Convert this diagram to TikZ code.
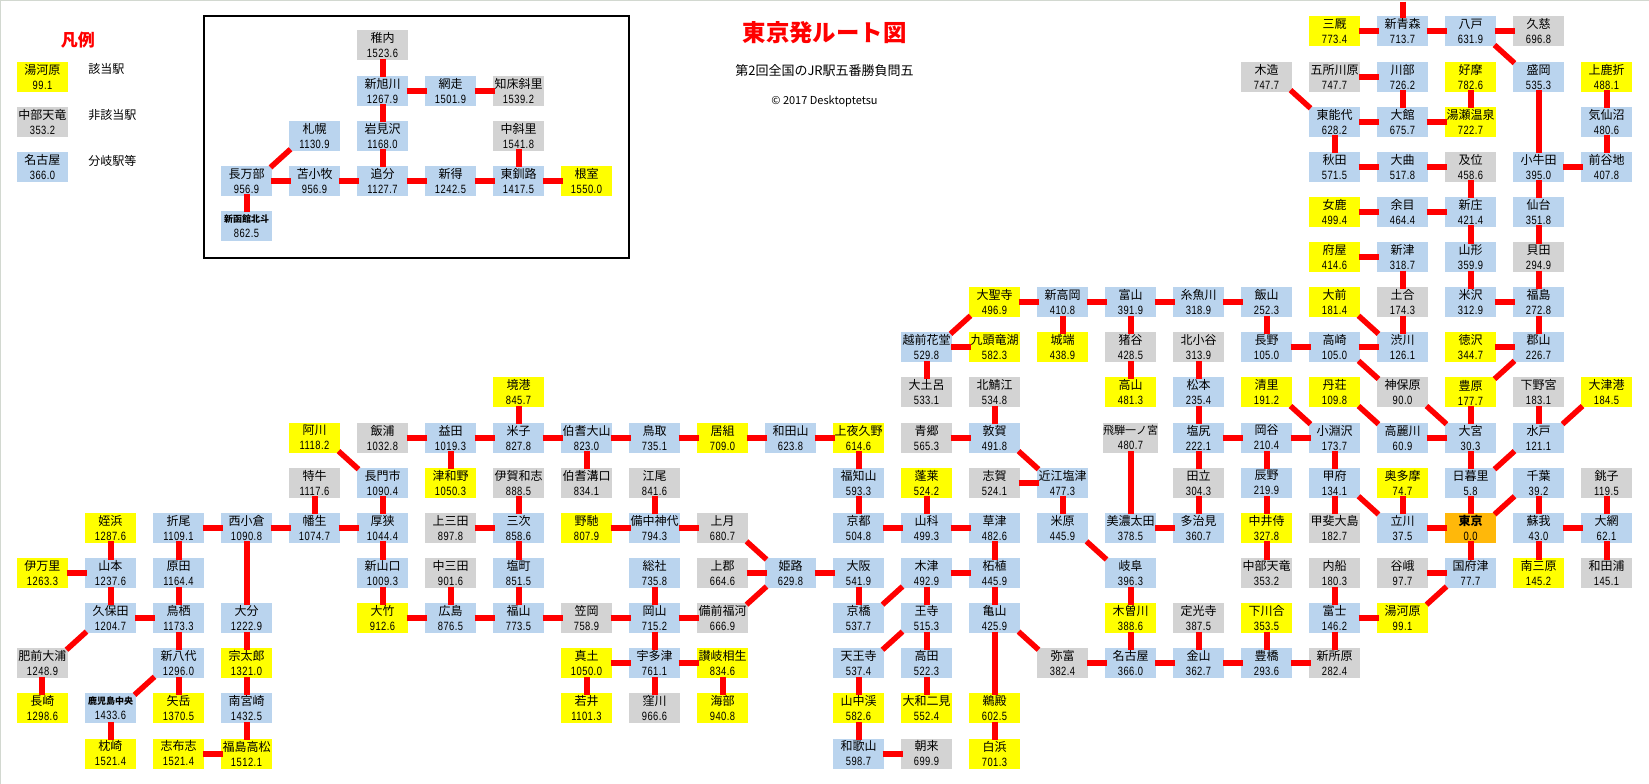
\documentclass[tikz,border=0pt]{standalone}
\usepackage{fontspec}
\setmainfont{Noto Sans CJK JP}
\newfontfamily\kmfont[FakeStretch=0.78,LetterSpace=4]{Liberation Sans}
\newcommand{\tinyname}{\fontsize{9}{15}\selectfont\bfseries}
\newcommand{\longname}{\fontsize{11}{15}\selectfont}
\definecolor{hitcol}{HTML}{FFFF00}
\definecolor{misscol}{HTML}{D3D3D3}
\definecolor{junctioncol}{HTML}{BAD4EE}
\definecolor{origincol}{HTML}{FFB80A}
\definecolor{windowcol}{HTML}{D2D8D0}
\begin{document}
\begin{tikzpicture}[x=68pt,y=-45.125pt,
                station/.style={rectangle, inner sep=0pt, outer sep=-1.5pt, minimum width=51pt, minimum height=30pt,
                    align=center, font=\fontsize{12}{15}\selectfont},
                hit/.style={station, fill=hitcol},
                miss/.style={station, fill=misscol},
                junction/.style={station, fill=junctioncol},
                origin/.style={station, fill=origincol},
                rail/.style={draw=red, line width=6pt},
                slant/.style={draw=red, line width=5.5pt},
                caption/.style={font=\fontsize{12}{15}\selectfont, anchor=west, inner sep=0pt}
            ]
            \useasboundingbox (-0.625,-0.698) rectangle (23.625,16.676);
            \draw[windowcol, line width=1.5pt] (-0.625,16.676) -- (-0.625,-0.698) -- (23.625,-0.698);

            % titles
            \node[font=\fontsize{23.4}{25}\selectfont\bfseries, text=red] (maintitle) at (11.5,0.03) {東京発ルート図};
            \node[font=\fontsize{13}{15}\selectfont] (subtitle) at (11.5,0.87) {第2回全国のJR駅五番勝負問五};
            \node[font=\fontsize{11}{12}\selectfont] (copyline) at (11.5,1.54) {© 2017 Desktoptetsu};

            % legend
            \node[font=\fontsize{17}{18}\selectfont\bfseries, text=red] (legendtitle) at (0.52,0.19) {凡例};
            \node[hit] (keyhit) at (0,1) {湯河原\\\kmfont 99.1};
            \node[miss] (keymiss) at (0,2) {中部天竜\\\kmfont 353.2};
            \node[junction] (keyjunction) at (0,3) {名古屋\\\kmfont 366.0};
            \node[caption] (hittext) at (0.67,0.84) {該当駅};
            \node[caption] (misstext) at (0.67,1.86) {非該当駅};
            \node[caption] (junctiontext) at (0.67,2.87) {分岐駅等};

            % Hokkaido inset
            \draw[line width=2pt] (2.375,-0.35) rectangle (8.625,5.02);
            \node[miss] (wakkanai) at (5,0.31) {稚内\\\kmfont 1523.6};
            \node[junction] (shinasahikawa) at (5,1.31) {新旭川\\\kmfont 1267.9};
            \node[junction] (abashiri) at (6,1.31) {網走\\\kmfont 1501.9};
            \node[miss] (shiretoko) at (7,1.31) {知床斜里\\\kmfont 1539.2};
            \node[junction] (sapporo) at (4,2.31) {札幌\\\kmfont 1130.9};
            \node[junction] (iwamizawa) at (5,2.31) {岩見沢\\\kmfont 1168.0};
            \node[miss] (nakashari) at (7,2.31) {中斜里\\\kmfont 1541.8};
            \node[junction] (oshamambe) at (3,3.31) {長万部\\\kmfont 956.9};
            \node[junction] (tomakomai) at (4,3.31) {苫小牧\\\kmfont 956.9};
            \node[junction] (oiwake) at (5,3.31) {追分\\\kmfont 1127.7};
            \node[junction] (shintoku) at (6,3.31) {新得\\\kmfont 1242.5};
            \node[junction] (higashikushiro) at (7,3.31) {東釧路\\\kmfont 1417.5};
            \node[hit] (nemuro) at (8,3.31) {根室\\\kmfont 1550.0};
            \node[junction] (hakodatehokuto) at (3,4.31) {{\tinyname 新函館北斗}\\\kmfont 862.5};

            % rows 0 to 5
            \node[hit] (minmaya) at (19,0) {三厩\\\kmfont 773.4};
            \node[junction] (shinaomori) at (20,0) {新青森\\\kmfont 713.7};
            \node[junction] (hachinohe) at (21,0) {八戸\\\kmfont 631.9};
            \node[miss] (kuji) at (22,0) {久慈\\\kmfont 696.8};
            \node[miss] (kizukuri) at (18,1) {木造\\\kmfont 747.7};
            \node[miss] (goshogawara) at (19,1) {五所川原\\\kmfont 747.7};
            \node[junction] (kawabe) at (20,1) {川部\\\kmfont 726.2};
            \node[hit] (koma) at (21,1) {好摩\\\kmfont 782.6};
            \node[junction] (morioka) at (22,1) {盛岡\\\kmfont 535.3};
            \node[hit] (kamishishiori) at (23,1) {上鹿折\\\kmfont 488.1};
            \node[junction] (higashinoshiro) at (19,2) {東能代\\\kmfont 628.2};
            \node[junction] (odate) at (20,2) {大館\\\kmfont 675.7};
            \node[hit] (yuzeonsen) at (21,2) {湯瀬温泉\\\kmfont 722.7};
            \node[junction] (kesennuma) at (23,2) {気仙沼\\\kmfont 480.6};
            \node[junction] (akita) at (19,3) {秋田\\\kmfont 571.5};
            \node[junction] (omagari) at (20,3) {大曲\\\kmfont 517.8};
            \node[miss] (nozoki) at (21,3) {及位\\\kmfont 458.6};
            \node[junction] (kogota) at (22,3) {小牛田\\\kmfont 395.0};
            \node[junction] (maeyachi) at (23,3) {前谷地\\\kmfont 407.8};
            \node[hit] (mega) at (19,4) {女鹿\\\kmfont 499.4};
            \node[junction] (amarume) at (20,4) {余目\\\kmfont 464.4};
            \node[junction] (shinjo) at (21,4) {新庄\\\kmfont 421.4};
            \node[junction] (sendai) at (22,4) {仙台\\\kmfont 351.8};
            \node[hit] (fuya) at (19,5) {府屋\\\kmfont 414.6};
            \node[junction] (niitsu) at (20,5) {新津\\\kmfont 318.7};
            \node[junction] (yamagata) at (21,5) {山形\\\kmfont 359.9};
            \node[miss] (kaida) at (22,5) {貝田\\\kmfont 294.9};

            % rows 6 and 7
            \node[hit] (daishoji) at (14,6) {大聖寺\\\kmfont 496.9};
            \node[junction] (shintakaoka) at (15,6) {新高岡\\\kmfont 410.8};
            \node[junction] (toyama) at (16,6) {富山\\\kmfont 391.9};
            \node[junction] (itoigawa) at (17,6) {糸魚川\\\kmfont 318.9};
            \node[junction] (iiyama) at (18,6) {飯山\\\kmfont 252.3};
            \node[hit] (omae) at (19,6) {大前\\\kmfont 181.4};
            \node[miss] (doai) at (20,6) {土合\\\kmfont 174.3};
            \node[junction] (yonezawa) at (21,6) {米沢\\\kmfont 312.9};
            \node[junction] (fukushima) at (22,6) {福島\\\kmfont 272.8};
            \node[junction] (echizenhanando) at (13,7) {越前花堂\\\kmfont 529.8};
            \node[hit] (kuzuryuko) at (14,7) {九頭竜湖\\\kmfont 582.3};
            \node[hit] (johana) at (15,7) {城端\\\kmfont 438.9};
            \node[miss] (inotani) at (16,7) {猪谷\\\kmfont 428.5};
            \node[miss] (kitaotari) at (17,7) {北小谷\\\kmfont 313.9};
            \node[junction] (nagano) at (18,7) {長野\\\kmfont 105.0};
            \node[junction] (takasaki) at (19,7) {高崎\\\kmfont 105.0};
            \node[junction] (shibukawa) at (20,7) {渋川\\\kmfont 126.1};
            \node[hit] (tokusawa) at (21,7) {徳沢\\\kmfont 344.7};
            \node[junction] (koriyama) at (22,7) {郡山\\\kmfont 226.7};

            % row 8
            \node[hit] (sakaiminato) at (7,8) {境港\\\kmfont 845.7};
            \node[miss] (otsuchiro) at (13,8) {大土呂\\\kmfont 533.1};
            \node[miss] (kitasabae) at (14,8) {北鯖江\\\kmfont 534.8};
            \node[hit] (takayama) at (16,8) {高山\\\kmfont 481.3};
            \node[junction] (matsumoto) at (17,8) {松本\\\kmfont 235.4};
            \node[hit] (kiyosato) at (18,8) {清里\\\kmfont 191.2};
            \node[hit] (tanso) at (19,8) {丹荘\\\kmfont 109.8};
            \node[miss] (jimbohara) at (20,8) {神保原\\\kmfont 90.0};
            \node[hit] (toyohara) at (21,8) {豊原\\\kmfont 177.7};
            \node[miss] (shimotsukemiya) at (22,8) {下野宮\\\kmfont 183.1};
            \node[hit] (otsuko) at (23,8) {大津港\\\kmfont 184.5};

            % row 9
            \node[hit] (agawa) at (4,9) {阿川\\\kmfont 1118.2};
            \node[miss] (iinoura) at (5,9) {飯浦\\\kmfont 1032.8};
            \node[junction] (masuda) at (6,9) {益田\\\kmfont 1019.3};
            \node[junction] (yonago) at (7,9) {米子\\\kmfont 827.8};
            \node[junction] (hokidaisen) at (8,9) {伯耆大山\\\kmfont 823.0};
            \node[junction] (tottori) at (9,9) {鳥取\\\kmfont 735.1};
            \node[hit] (igumi) at (10,9) {居組\\\kmfont 709.0};
            \node[junction] (wadayama) at (11,9) {和田山\\\kmfont 623.8};
            \node[hit] (kamiyakuno) at (12,9) {上夜久野\\\kmfont 614.6};
            \node[miss] (aonogo) at (13,9) {青郷\\\kmfont 565.3};
            \node[junction] (tsuruga) at (14,9) {敦賀\\\kmfont 491.8};
            \node[miss] (hidaichinomiya) at (16,9) {{\longname 飛騨一ノ宮}\\\kmfont 480.7};
            \node[junction] (shiojiri) at (17,9) {塩尻\\\kmfont 222.1};
            \node[junction] (okaya) at (18,9) {岡谷\\\kmfont 210.4};
            \node[junction] (kobuchizawa) at (19,9) {小淵沢\\\kmfont 173.7};
            \node[junction] (komagawa) at (20,9) {高麗川\\\kmfont 60.9};
            \node[junction] (omiya) at (21,9) {大宮\\\kmfont 30.3};
            \node[junction] (mito) at (22,9) {水戸\\\kmfont 121.1};

            % row 10
            \node[miss] (kottoi) at (4,10) {特牛\\\kmfont 1117.6};
            \node[junction] (nagatoshi) at (5,10) {長門市\\\kmfont 1090.4};
            \node[hit] (tsuwano) at (6,10) {津和野\\\kmfont 1050.3};
            \node[miss] (igawashi) at (7,10) {伊賀和志\\\kmfont 888.5};
            \node[miss] (hokimizoguchi) at (8,10) {伯耆溝口\\\kmfont 834.1};
            \node[miss] (eo) at (9,10) {江尾\\\kmfont 841.6};
            \node[junction] (fukuchiyama) at (12,10) {福知山\\\kmfont 593.3};
            \node[hit] (horai) at (13,10) {蓬莱\\\kmfont 524.2};
            \node[miss] (shiga) at (14,10) {志賀\\\kmfont 524.1};
            \node[junction] (omishiotsu) at (15,10) {近江塩津\\\kmfont 477.3};
            \node[miss] (tachi) at (17,10) {田立\\\kmfont 304.3};
            \node[junction] (tatsuno) at (18,10) {辰野\\\kmfont 219.9};
            \node[junction] (kofu) at (19,10) {甲府\\\kmfont 134.1};
            \node[hit] (okutama) at (20,10) {奥多摩\\\kmfont 74.7};
            \node[junction] (nippori) at (21,10) {日暮里\\\kmfont 5.8};
            \node[junction] (chiba) at (22,10) {千葉\\\kmfont 39.2};
            \node[miss] (choshi) at (23,10) {銚子\\\kmfont 119.5};

            % row 11
            \node[hit] (meinohama) at (1,11) {姪浜\\\kmfont 1287.6};
            \node[junction] (orio) at (2,11) {折尾\\\kmfont 1109.1};
            \node[junction] (nishikokura) at (3,11) {西小倉\\\kmfont 1090.8};
            \node[junction] (hatabu) at (4,11) {幡生\\\kmfont 1074.7};
            \node[junction] (asa) at (5,11) {厚狭\\\kmfont 1044.4};
            \node[miss] (kamimita) at (6,11) {上三田\\\kmfont 897.8};
            \node[junction] (miyoshi) at (7,11) {三次\\\kmfont 858.6};
            \node[hit] (nochi) at (8,11) {野馳\\\kmfont 807.9};
            \node[junction] (bitchukojiro) at (9,11) {備中神代\\\kmfont 794.3};
            \node[miss] (kozuki) at (10,11) {上月\\\kmfont 680.7};
            \node[junction] (kyoto) at (12,11) {京都\\\kmfont 504.8};
            \node[junction] (yamashina) at (13,11) {山科\\\kmfont 499.3};
            \node[junction] (kusatsu) at (14,11) {草津\\\kmfont 482.6};
            \node[junction] (maibara) at (15,11) {米原\\\kmfont 445.9};
            \node[junction] (minoota) at (16,11) {美濃太田\\\kmfont 378.5};
            \node[junction] (tajimi) at (17,11) {多治見\\\kmfont 360.7};
            \node[hit] (nakaizamurai) at (18,11) {中井侍\\\kmfont 327.8};
            \node[miss] (kaioshima) at (19,11) {甲斐大島\\\kmfont 182.7};
            \node[junction] (tachikawa) at (20,11) {立川\\\kmfont 37.5};
            \node[origin] (tokyo) at (21,11) {\bfseries 東京\\\kmfont 0.0};
            \node[junction] (soga) at (22,11) {蘇我\\\kmfont 43.0};
            \node[junction] (oami) at (23,11) {大網\\\kmfont 62.1};

            % row 12
            \node[hit] (imari) at (0,12) {伊万里\\\kmfont 1263.3};
            \node[junction] (yamamoto) at (1,12) {山本\\\kmfont 1237.6};
            \node[junction] (harada) at (2,12) {原田\\\kmfont 1164.4};
            \node[junction] (shinyamaguchi) at (5,12) {新山口\\\kmfont 1009.3};
            \node[miss] (nakamita) at (6,12) {中三田\\\kmfont 901.6};
            \node[junction] (shiomachi) at (7,12) {塩町\\\kmfont 851.5};
            \node[junction] (soja) at (9,12) {総社\\\kmfont 735.8};
            \node[miss] (kamigori) at (10,12) {上郡\\\kmfont 664.6};
            \node[junction] (himeji) at (11,12) {姫路\\\kmfont 629.8};
            \node[junction] (osaka) at (12,12) {大阪\\\kmfont 541.9};
            \node[junction] (kizu) at (13,12) {木津\\\kmfont 492.9};
            \node[junction] (tsuge) at (14,12) {柘植\\\kmfont 445.9};
            \node[junction] (gifu) at (16,12) {岐阜\\\kmfont 396.3};
            \node[miss] (chubutenryu) at (18,12) {中部天竜\\\kmfont 353.2};
            \node[miss] (utsubuna) at (19,12) {内船\\\kmfont 180.3};
            \node[miss] (yaga) at (20,12) {谷峨\\\kmfont 97.7};
            \node[junction] (kozu) at (21,12) {国府津\\\kmfont 77.7};
            \node[hit] (minamihara) at (22,12) {南三原\\\kmfont 145.2};
            \node[miss] (wadaura) at (23,12) {和田浦\\\kmfont 145.1};

            % row 13
            \node[junction] (kubota) at (1,13) {久保田\\\kmfont 1204.7};
            \node[junction] (tosu) at (2,13) {鳥栖\\\kmfont 1173.3};
            \node[junction] (oita) at (3,13) {大分\\\kmfont 1222.9};
            \node[hit] (otake) at (5,13) {大竹\\\kmfont 912.6};
            \node[junction] (hiroshima) at (6,13) {広島\\\kmfont 876.5};
            \node[junction] (fukuyama) at (7,13) {福山\\\kmfont 773.5};
            \node[miss] (kasaoka) at (8,13) {笠岡\\\kmfont 758.9};
            \node[junction] (okayama) at (9,13) {岡山\\\kmfont 715.2};
            \node[miss] (bizenfukuka) at (10,13) {備前福河\\\kmfont 666.9};
            \node[junction] (kyobashi) at (12,13) {京橋\\\kmfont 537.7};
            \node[junction] (oji) at (13,13) {王寺\\\kmfont 515.3};
            \node[junction] (kameyama) at (14,13) {亀山\\\kmfont 425.9};
            \node[hit] (kisogawa) at (16,13) {木曽川\\\kmfont 388.6};
            \node[miss] (jokoji) at (17,13) {定光寺\\\kmfont 387.5};
            \node[hit] (shimokawai) at (18,13) {下川合\\\kmfont 353.5};
            \node[junction] (fuji) at (19,13) {富士\\\kmfont 146.2};
            \node[hit] (yugawara) at (20,13) {湯河原\\\kmfont 99.1};

            % row 14
            \node[miss] (hizenouro) at (0,14) {肥前大浦\\\kmfont 1248.9};
            \node[junction] (shinyatsushiro) at (2,14) {新八代\\\kmfont 1296.0};
            \node[hit] (sotaro) at (3,14) {宗太郎\\\kmfont 1321.0};
            \node[hit] (matsuchi) at (8,14) {真土\\\kmfont 1050.0};
            \node[junction] (utazu) at (9,14) {宇多津\\\kmfont 761.1};
            \node[hit] (sanukiaioi) at (10,14) {讃岐相生\\\kmfont 834.6};
            \node[junction] (tennoji) at (12,14) {天王寺\\\kmfont 537.4};
            \node[junction] (takada) at (13,14) {高田\\\kmfont 522.3};
            \node[miss] (yatomi) at (15,14) {弥富\\\kmfont 382.4};
            \node[junction] (nagoya) at (16,14) {名古屋\\\kmfont 366.0};
            \node[junction] (kanayama) at (17,14) {金山\\\kmfont 362.7};
            \node[junction] (toyohashi) at (18,14) {豊橋\\\kmfont 293.6};
            \node[miss] (shinjohara) at (19,14) {新所原\\\kmfont 282.4};

            % rows 15 and 16
            \node[hit] (nagasaki) at (0,15) {長崎\\\kmfont 1298.6};
            \node[junction] (kagoshimachuo) at (1,15) {{\tinyname 鹿児島中央}\\\kmfont 1433.6};
            \node[hit] (yatake) at (2,15) {矢岳\\\kmfont 1370.5};
            \node[junction] (minamimiyazaki) at (3,15) {南宮崎\\\kmfont 1432.5};
            \node[hit] (wakai) at (8,15) {若井\\\kmfont 1101.3};
            \node[miss] (kubokawa) at (9,15) {窪川\\\kmfont 966.6};
            \node[hit] (kaifu) at (10,15) {海部\\\kmfont 940.8};
            \node[hit] (yamanakadani) at (12,15) {山中渓\\\kmfont 582.6};
            \node[hit] (yamatofutami) at (13,15) {大和二見\\\kmfont 552.4};
            \node[hit] (udono) at (14,15) {鵜殿\\\kmfont 602.5};
            \node[hit] (makurazaki) at (1,16) {枕崎\\\kmfont 1521.4};
            \node[hit] (shibushi) at (2,16) {志布志\\\kmfont 1521.4};
            \node[hit] (fukushimatakamatsu) at (3,16) {福島高松\\\kmfont 1512.1};
            \node[junction] (wakayama) at (12,16) {和歌山\\\kmfont 598.7};
            \node[miss] (asso) at (13,16) {朝来\\\kmfont 699.9};
            \node[hit] (shirahama) at (14,16) {白浜\\\kmfont 701.3};

            % free end above the top row
            \coordinate (northend) at (20,-0.66);

            % inset lines
            \draw[rail] (wakkanai) -- (shinasahikawa) -- (iwamizawa) -- (oiwake);
            \draw[rail] (shinasahikawa) -- (abashiri) -- (shiretoko);
            \draw[rail] (hakodatehokuto) -- (oshamambe) -- (tomakomai) -- (oiwake) -- (shintoku) -- (higashikushiro) -- (nemuro);
            \draw[rail] (nakashari) -- (higashikushiro);
            \draw[slant] (oshamambe.north east) -- (sapporo.south west);

            % Tohoku
            \draw[rail] (northend) -- (shinaomori) -- (hachinohe) -- (kuji);
            \draw[rail] (minmaya) -- (shinaomori);
            \draw[rail] (goshogawara) -- (kawabe) -- (odate) -- (yuzeonsen) -- (koma);
            \draw[rail] (odate) -- (higashinoshiro) -- (akita) -- (omagari) -- (nozoki) -- (shinjo) -- (yamagata) -- (yonezawa) -- (fukushima);
            \draw[rail] (mega) -- (amarume) -- (shinjo);
            \draw[rail] (morioka) -- (kogota) -- (sendai) -- (kaida) -- (fukushima) -- (koriyama) -- (tokusawa);
            \draw[rail] (kamishishiori) -- (kesennuma) -- (maeyachi) -- (kogota);
            \draw[rail] (fuya) -- (niitsu) -- (doai) -- (shibukawa);
            \draw[slant] (hachinohe.south east) -- (morioka.north west);
            \draw[slant] (kizukuri.south east) -- (higashinoshiro.north west);

            % Hokuriku and Shinshu
            \draw[rail] (daishoji) -- (shintakaoka) -- (toyama) -- (itoigawa) -- (iiyama) -- (nagano) -- (takasaki) -- (shibukawa);
            \draw[rail] (shintakaoka) -- (johana);
            \draw[rail] (toyama) -- (inotani) -- (takayama);
            \draw[rail] (kuzuryuko) -- (echizenhanando) -- (otsuchiro);
            \draw[rail] (kitaotari) -- (matsumoto) -- (shiojiri) -- (okaya) -- (kobuchizawa) -- (kofu) -- (kaioshima);
            \draw[rail] (shiojiri) -- (tachi) -- (tajimi) -- (minoota) -- (hidaichinomiya);
            \draw[rail] (okaya) -- (tatsuno) -- (nakaizamurai) -- (chubutenryu);
            \draw[slant] (echizenhanando.north east) -- (daishoji.south west);
            \draw[slant] (omae.south east) -- (shibukawa.north west);
            \draw[slant] (takasaki.south east) -- (jimbohara.north west);
            \draw[slant] (koriyama.south west) -- (toyohara.north east);
            \draw[slant] (kiyosato.south east) -- (kobuchizawa.north west);
            \draw[slant] (tanso.south east) -- (komagawa.north west);
            \draw[slant] (kofu.south east) -- (tachikawa.north west);

            % Kanto
            \draw[rail] (komagawa) -- (omiya) -- (nippori) -- (tokyo) -- (kozu) -- (yaga);
            \draw[rail] (toyohara) -- (omiya);
            \draw[rail] (okutama) -- (tachikawa) -- (tokyo);
            \draw[rail] (shimotsukemiya) -- (mito);
            \draw[rail] (chiba) -- (soga) -- (oami) -- (wadaura);
            \draw[rail] (soga) -- (minamihara);
            \draw[rail] (choshi) -- (oami);
            \draw[rail] (utsubuna) -- (fuji) -- (yugawara);
            \draw[rail] (fuji) -- (shinjohara) -- (toyohashi) -- (kanayama) -- (nagoya) -- (kisogawa) -- (gifu);
            \draw[rail] (shimokawai) -- (toyohashi);
            \draw[rail] (jokoji) -- (kanayama);
            \draw[rail] (nagoya) -- (yatomi);
            \draw[slant] (jimbohara.south east) -- (omiya.north west);
            \draw[slant] (otsuko.south west) -- (mito.north east);
            \draw[slant] (mito.south west) -- (nippori.north east);
            \draw[slant] (chiba.south west) -- (tokyo.north east);
            \draw[slant] (kozu.south west) -- (yugawara.north east);

            % Kansai
            \draw[rail] (sakaiminato) -- (yonago) -- (hokidaisen) -- (tottori) -- (igumi) -- (wadayama) -- (kamiyakuno) -- (fukuchiyama) -- (kyoto) -- (yamashina) -- (kusatsu) -- (tsuge) -- (kameyama) -- (udono) -- (shirahama);
            \draw[rail] (iinoura) -- (masuda) -- (yonago);
            \draw[rail] (masuda) -- (tsuwano);
            \draw[rail] (hokidaisen) -- (hokimizoguchi);
            \draw[rail] (horai) -- (yamashina);
            \draw[rail] (aonogo) -- (tsuruga) -- (kitasabae);
            \draw[rail] (shiga) -- (omishiotsu) -- (maibara);
            \draw[rail] (kamigori) -- (himeji) -- (osaka) -- (kyobashi);
            \draw[rail] (kizu) -- (tsuge);
            \draw[rail] (kizu) -- (oji) -- (takada) -- (yamatofutami);
            \draw[rail] (tennoji) -- (yamanakadani) -- (wakayama) -- (asso);
            \draw[slant] (tsuruga.south east) -- (omishiotsu.north west);
            \draw[slant] (maibara.south east) -- (gifu.north west);
            \draw[slant] (kizu.south west) -- (kyobashi.north east);
            \draw[slant] (oji.south west) -- (tennoji.north east);
            \draw[slant] (kameyama.south east) -- (yatomi.north west);
            \draw[slant] (kozuki.south east) -- (himeji.north west);
            \draw[slant] (bizenfukuka.north east) -- (himeji.south west);

            % Chugoku and Shikoku
            \draw[rail] (eo) -- (bitchukojiro) -- (kozuki);
            \draw[rail] (nochi) -- (bitchukojiro);
            \draw[rail] (soja) -- (okayama) -- (utazu) -- (kubokawa);
            \draw[rail] (kasaoka) -- (okayama) -- (bizenfukuka);
            \draw[rail] (wakai) -- (matsuchi) -- (utazu) -- (sanukiaioi) -- (kaifu);
            \draw[rail] (igawashi) -- (miyoshi) -- (shiomachi) -- (fukuyama) -- (kasaoka);
            \draw[rail] (kamimita) -- (miyoshi);
            \draw[rail] (nakamita) -- (hiroshima) -- (fukuyama);
            \draw[rail] (nagatoshi) -- (asa) -- (shinyamaguchi) -- (otake) -- (hiroshima);
            \draw[slant] (agawa.south east) -- (nagatoshi.north west);

            % Kyushu
            \draw[rail] (kottoi) -- (hatabu) -- (asa);
            \draw[rail] (orio) -- (nishikokura) -- (hatabu);
            \draw[rail] (nishikokura) -- (oita) -- (sotaro) -- (minamimiyazaki) -- (fukushimatakamatsu) -- (shibushi);
            \draw[rail] (orio) -- (harada) -- (tosu) -- (shinyatsushiro) -- (yatake);
            \draw[rail] (tosu) -- (kubota) -- (yamamoto) -- (meinohama);
            \draw[rail] (imari) -- (yamamoto);
            \draw[rail] (hizenouro) -- (nagasaki);
            \draw[rail] (kagoshimachuo) -- (makurazaki);
            \draw[slant] (kubota.south west) -- (hizenouro.north east);
            \draw[slant] (shinyatsushiro.south west) -- (kagoshimachuo.north east);
        \end{tikzpicture}
\end{document}
